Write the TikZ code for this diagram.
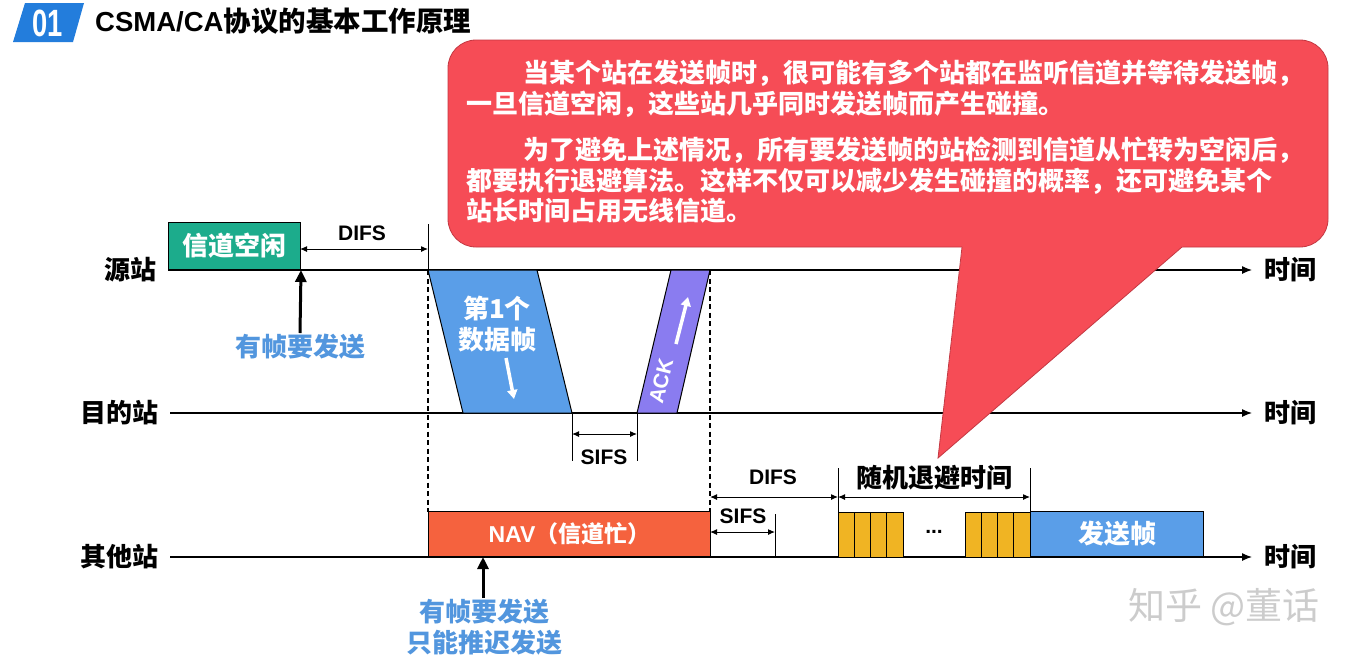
\documentclass[tikz,border=0pt]{standalone}
\usepackage{fontspec}
\usetikzlibrary{arrows.meta}
\newfontfamily\cjk{Noto Sans CJK SC}
\newfontfamily\lat{Liberation Sans}
\definecolor{badgeblue}{RGB}{35,125,220}
\definecolor{idlegreen}{RGB}{28,172,140}
\definecolor{frameblue}{RGB}{90,158,232}
\definecolor{ackpurple}{RGB}{138,124,240}
\definecolor{navred}{RGB}{245,98,62}
\definecolor{slotyellow}{RGB}{240,180,35}
\definecolor{bubblered}{RGB}{246,76,86}
\definecolor{bubbleedge}{RGB}{196,56,66}
\definecolor{noteblue}{RGB}{82,150,222}
\tikzset{
  timeaxis/.style={line width=1.2pt,-{Latex[length=10pt,width=8pt]}},
  dimline/.style={line width=1pt,{Latex[length=7pt,width=6pt]}-{Latex[length=7pt,width=6pt]}},
  edgeline/.style={line width=1pt},
  guide/.style={line width=1.1pt,dash pattern=on 5pt off 3.5pt},
  frm/.style={draw=black,line width=1pt},
  cn/.style={font=\cjk\bfseries\fontsize{26}{31}\selectfont,inner sep=0pt},
  en/.style={font=\lat\bfseries\fontsize{21}{24}\selectfont,inner sep=0pt},
  uparrow/.style={line width=3pt,-{Triangle[length=12pt,width=11pt]}},
  whitearrow/.style={white,line width=3.5pt,-{Triangle[length=9pt,width=10pt]}},
}
\begin{document}
\begin{tikzpicture}[x=1pt,y=-1pt]
    \fill[white] (0,0) rectangle (1364,662);
    \useasboundingbox (0,0) rectangle (1364,662);

    % title
    \fill[badgeblue] (25,3) -- (84,3) -- (73,42) -- (13,42) -- cycle;
    \node[font=\lat\bfseries\fontsize{38}{38}\selectfont, text=white, xscale=0.72, inner sep=0pt] (num) at (48,23) {01};
    \node[cn, font=\cjk\bfseries\fontsize{27.5}{30}\selectfont, anchor=west] (title) at (95,21) {{\lat CSMA/CA}协议的基本工作原理};

    % time axes
    \coordinate (src0) at (168,270); \coordinate (src1) at (1252,270);
    \coordinate (dst0) at (170,413); \coordinate (dst1) at (1252,413);
    \coordinate (oth0) at (170,557); \coordinate (oth1) at (1252,557);
    \foreach \a/\txt in {src/源站, dst/目的站, oth/其他站} {
      \draw[timeaxis] (\a0) -- (\a1);
      \node[cn, anchor=east] (\a lbl) at ([xshift=-11pt]\a0) {\txt};
      \node[cn, anchor=west] (\a time) at ([xshift=12pt]\a1) {时间};
    }

    % source station
    \node[frm, fill=idlegreen, cn, text=white, minimum width=132pt, minimum height=47pt, anchor=south west] (idle) at (src0) {信道空闲};
    \coordinate (difsA) at (300,249);
    \coordinate (difsB) at (428,249);
    \draw[edgeline] (428,224) -- (428,270);
    \draw[dimline] (difsA) -- (difsB);
    \node[en] (difs1) at (362,233) {DIFS};
    \coordinate (req1) at (300,333);
    \draw[uparrow] (req1) -- (idle.south east);
    \node[cn, text=noteblue] (reqtxt) at (300,347) {有帧要发送};

    % data frame and ACK
    \coordinate (d1) at (428,270); \coordinate (d2) at (537,270);
    \coordinate (d3) at (572,413); \coordinate (d4) at (463,413);
    \draw[frm, fill=frameblue] (d1) -- (d2) -- (d3) -- (d4) -- cycle;
    \node[cn, text=white, align=center] (data) at (497,324) {第1个\\数据帧};
    \draw[whitearrow] (506,358) -- (514,399);

    \coordinate (a1) at (671,270); \coordinate (a2) at (710,270);
    \coordinate (a3) at (677,413); \coordinate (a4) at (637,413);
    \draw[frm, fill=ackpurple] (a1) -- (a2) -- (a3) -- (a4) -- cycle;
    \node[en, text=white, rotate=76] (ack) at (661,381) {ACK};
    \draw[whitearrow] (676,344) -- (688,297);

    % SIFS at destination
    \draw[edgeline] (d3) -- ++(0,48);
    \draw[edgeline] (a4) -- ++(0,48);
    \coordinate (sifsA) at (572,434); \coordinate (sifsB) at (637,434);
    \draw[dimline] (sifsA) -- (sifsB);
    \node[en] (sifs1) at (604,457) {SIFS};

    % guide lines
    \draw[guide] (d1) -- (428,512);
    \draw[guide] (a2) -- (710,512);

    % other stations
    \node[frm, fill=navred, cn, font=\cjk\bfseries\fontsize{23}{26}\selectfont, text=white, minimum width=282pt, minimum height=45pt, anchor=south west] (nav) at (428,557) {{\lat NAV}（信道忙）};
    \coordinate (req2) at (483,598);
    \draw[uparrow] (req2) -- (483,557);
    \node[cn, text=noteblue, align=center] (deftxt) at (484,627) {有帧要发送\\只能推迟发送};

    \coordinate (sifsC) at (710,532); \coordinate (sifsD) at (775,532);
    \draw[edgeline] (775,514) -- (775,557);
    \draw[dimline] (sifsC) -- (sifsD);
    \node[en] (sifs2) at (743,516) {SIFS};

    \coordinate (difsC) at (710,497); \coordinate (difsD) at (838,497);
    \coordinate (boffE) at (1030,497);
    \draw[edgeline] (838,468) -- (838,512);
    \draw[edgeline] (1030,468) -- (1030,512);
    \draw[dimline] (difsC) -- (difsD);
    \draw[dimline] (difsD) -- (boffE);
    \node[en] (difs2) at (773,477) {DIFS};
    \node[cn] (backoff) at (934,478) {随机退避时间};

    \foreach \x in {838,965} {
      \foreach \i in {0,...,3} {
        \draw[frm, fill=slotyellow] ({\x+16.25*\i},512) rectangle ++(16.25,45);
      }
    }
    \node[en] (dots) at (934,532) {...};
    \node[frm, fill=frameblue, cn, text=white, minimum width=173pt, minimum height=45pt, anchor=south west] (send) at (1030,557) {发送帧};

    % callout
    \draw[fill=bubblered, draw=bubbleedge, line width=0.8pt, rounded corners=28pt] (448,40) rectangle (1328,247);
    \fill[bubblered] (963,240) -- (1190,240) -- (938,458) -- cycle;
    \draw[bubbleedge, line width=0.8pt] (1182,247) -- (938,458) -- (962,247);
    \node[cn, font=\cjk\bfseries\fontsize{26}{30.5}\selectfont, text=white, align=left, anchor=north west] (note) at (466,60)
      {\hspace*{2.2em}当某个站在发送帧时，很可能有多个站都在监听信道并等待发送帧，\\
       一旦信道空闲，这些站几乎同时发送帧而产生碰撞。\\[16pt]
       \hspace*{2.2em}为了避免上述情况，所有要发送帧的站检测到信道从忙转为空闲后，\\
       都要执行退避算法。这样不仅可以减少发生碰撞的概率，还可避免某个\\
       站长时间占用无线信道。};

    % watermark
    \node[font=\cjk\fontsize{37}{37}\selectfont, text=black!20, inner sep=0pt] (mark) at (1224,607) {知乎 @董话};
\end{tikzpicture}
\end{document}
